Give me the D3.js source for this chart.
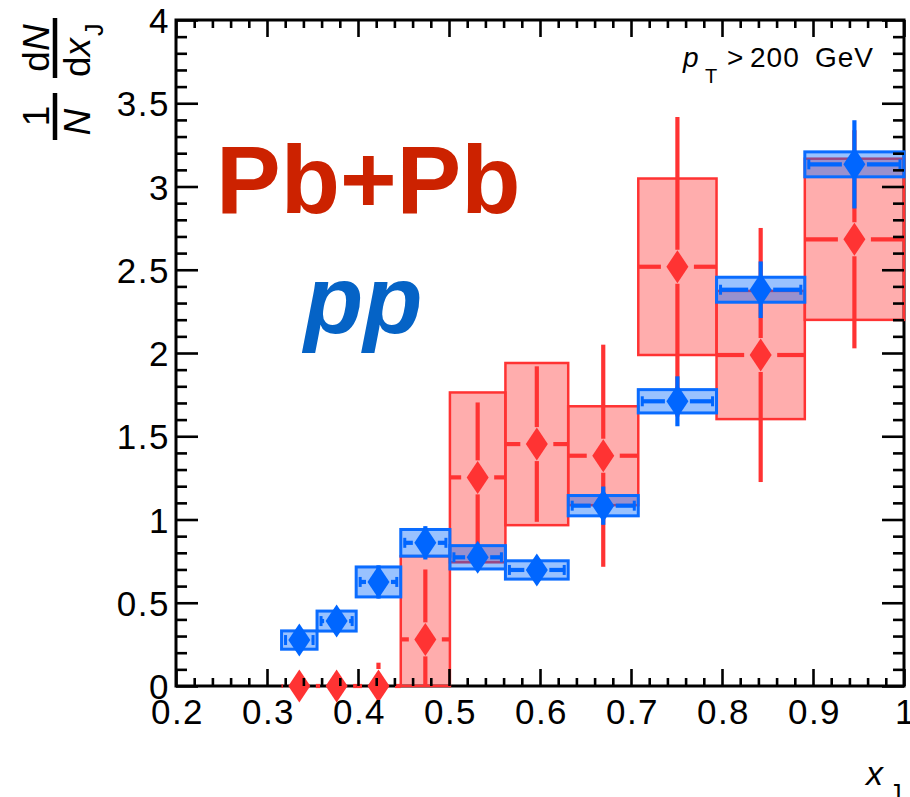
<!DOCTYPE html>
<html>
<head>
<meta charset="utf-8">
<script src="https://cdn.jsdelivr.net/npm/d3@7"></script>
<style>
  body { margin: 0; background: #fff; }
  svg { display: block; }
  text { font-family: "Liberation Sans", Arial, Helvetica, sans-serif; }
</style>
</head>
<body>
<svg id="chart" width="910" height="797"></svg>
<script>
// x_J bin edges (logarithmic binning)
const binEdges = [0.316, 0.355, 0.398, 0.447, 0.501, 0.562, 0.631, 0.708, 0.794, 0.891, 1.0];

// pp: 1/N dN/dx_J per bin, statistical and systematic uncertainties
const ppValues = [0.276, 0.39, 0.625, 0.86, 0.773, 0.697, 1.083, 1.71, 2.38, 3.133];
const ppStat   = [0.03, 0.04, 0.10, 0.10, 0.06, 0.06, 0.115, 0.15, 0.17, 0.265];
const ppSys    = [0.055, 0.06, 0.09, 0.08, 0.07, 0.055, 0.061, 0.07, 0.075, 0.075];

// Pb+Pb: 1/N dN/dx_J per bin, statistical and systematic uncertainties
const pbpbValues = [0, 0, 0, 0.28, 1.253, 1.453, 1.383, 2.518, 1.988, 2.683];
const pbpbStat   = [0, 0, 0.14, 0.42, 0.45, 0.467, 0.667, 0.9, 0.763, 0.655];
const pbpbSys    = [0, 0, 0, 0.5, 0.51, 0.487, 0.297, 0.53, 0.385, 0.484];

// axis ticks
const xTickValues = [0.2, 0.3, 0.4, 0.5, 0.6, 0.7, 0.8, 0.9, 1.0];
const xTickLabels = ["0.2", "0.3", "0.4", "0.5", "0.6", "0.7", "0.8", "0.9", "1"];
const yTickValues = [0, 0.5, 1, 1.5, 2, 2.5, 3, 3.5, 4];
const yTickLabels = ["0", "0.5", "1", "1.5", "2", "2.5", "3", "3.5", "4"];

const svg = d3.select("#chart");
const X0 = 176, X1 = 904, Y0 = 686, Y1 = 20;
const x = d3.scaleLinear().domain([0.2, 1]).range([X0, X1]);
const y = d3.scaleLinear().domain([0, 4]).range([Y0, Y1]);
const yc = y.copy().clamp(true);

const bins = binEdges.slice(0, -1).map((lo, i) => ({ lo, hi: binEdges[i + 1], c: (lo + binEdges[i + 1]) / 2 }));

// frame lines (drawn under the data)
svg.append("rect")
  .attr("x", X0).attr("y", Y1).attr("width", X1 - X0).attr("height", Y0 - Y1)
  .attr("fill", "none").attr("stroke", "#000").attr("stroke-width", 3);

function drawSeries(opts) {
  const g = svg.append("g");
  const rows = bins.map((b, i) => ({ ...b, v: opts.values[i], st: opts.stat[i], sy: opts.sys[i] }));

  // systematic boxes
  g.selectAll("rect.sys").data(rows.filter(d => d.sy > 0)).join("rect")
    .attr("class", "sys")
    .attr("x", d => x(d.lo)).attr("width", d => x(d.hi) - x(d.lo))
    .attr("y", d => yc(d.v + d.sy)).attr("height", d => yc(d.v - d.sy) - yc(d.v + d.sy))
    .attr("fill", opts.fill).attr("stroke", opts.edge).attr("stroke-width", opts.edgeWidth);

  const lines = [];
  rows.forEach(d => {
    const cx = x(d.c), cy = y(d.v);
    // horizontal bin-width bars
    lines.push([x(d.lo) + opts.inset, cy, cx - opts.gapX, cy]);
    lines.push([cx + opts.gapX, cy, x(d.hi) - opts.inset, cy]);
    // vertical statistical bars
    const top = yc(d.v + d.st), bot = yc(d.v - d.st);
    if (cy - opts.gapY > top) lines.push([cx, top, cx, cy - opts.gapY]);
    if (bot > cy + opts.gapY) lines.push([cx, cy + opts.gapY, cx, bot]);
  });
  g.selectAll("line.err").data(lines).join("line")
    .attr("class", "err")
    .attr("x1", d => d[0]).attr("y1", d => d[1]).attr("x2", d => d[2]).attr("y2", d => d[3])
    .attr("stroke", opts.color).attr("stroke-width", 4.2);

  if (opts.caps) {
    const caps = [];
    rows.forEach(d => {
      const cy = y(d.v);
      caps.push([x(d.lo) + opts.inset + 1, cy]);
      caps.push([x(d.hi) - opts.inset - 1, cy]);
    });
    g.selectAll("line.cap").data(caps).join("line")
      .attr("class", "cap")
      .attr("x1", d => d[0]).attr("x2", d => d[0])
      .attr("y1", d => d[1] - 5).attr("y2", d => d[1] + 5)
      .attr("stroke", opts.color).attr("stroke-width", 3);
  }

  // diamond markers
  g.selectAll("path.mk").data(rows).join("path")
    .attr("class", "mk")
    .attr("d", d => {
      const cx = x(d.c), cy = y(d.v);
      return `M${cx},${cy - 16.5}L${cx + 11},${cy}L${cx},${cy + 16.5}L${cx - 11},${cy}Z`;
    })
    .attr("fill", opts.color);
}

drawSeries({
  values: pbpbValues, stat: pbpbStat, sys: pbpbSys,
  color: "#ff3333", fill: "rgba(255,51,51,0.4)", edge: "#ff3333", edgeWidth: 2.5,
  gapX: 16.5, gapY: 17, inset: 0, caps: false
});
drawSeries({
  values: ppValues, stat: ppStat, sys: ppSys,
  color: "#0066ff", fill: "rgba(0,102,255,0.4)", edge: "#0a6cff", edgeWidth: 3,
  gapX: 12.5, gapY: 12, inset: 3, caps: true
});

// axes: ticks point inward, labels on bottom and left
const fontSize = 35;
const xMinor = d3.range(0.22, 1.0, 0.02).filter(v => Math.abs(v * 10 - Math.round(v * 10)) > 1e-6);
const yMinor = d3.range(0.1, 4.0, 0.1).filter(v => Math.abs(v * 2 - Math.round(v * 2)) > 1e-6);

function styleAxis(g) {
  g.select(".domain").remove();
  g.selectAll(".tick line").attr("stroke", "#000").attr("stroke-width", 2.6);
  g.selectAll(".tick text").attr("fill", "#000").attr("font-size", fontSize)
    .attr("letter-spacing", 1.5)
    .attr("font-family", "'Liberation Sans', Arial, Helvetica, sans-serif");
}

svg.append("g").attr("transform", `translate(0,${Y0})`)
  .call(d3.axisBottom(x).tickValues(xTickValues).tickSize(-17).tickPadding(13)
    .tickFormat((d, i) => xTickLabels[i]))
  .call(styleAxis)
  .call(g => g.selectAll(".tick text").attr("dx", 1));
svg.append("g").attr("transform", `translate(0,${Y0})`)
  .call(d3.axisBottom(x).tickValues(xMinor).tickSize(-8).tickFormat(""))
  .call(styleAxis);
svg.append("g").attr("transform", `translate(0,${Y1})`)
  .call(d3.axisTop(x).tickValues(xTickValues).tickSize(-17).tickFormat(""))
  .call(styleAxis);
svg.append("g").attr("transform", `translate(0,${Y1})`)
  .call(d3.axisTop(x).tickValues(xMinor).tickSize(-8).tickFormat(""))
  .call(styleAxis);

svg.append("g").attr("transform", `translate(${X0},0)`)
  .call(d3.axisLeft(y).tickValues(yTickValues).tickSize(-22).tickPadding(6)
    .tickFormat((d, i) => yTickLabels[i]))
  .call(styleAxis)
  .call(g => g.selectAll(".tick text").attr("dy", "0.36em"));
svg.append("g").attr("transform", `translate(${X0},0)`)
  .call(d3.axisLeft(y).tickValues(yMinor).tickSize(-11).tickFormat(""))
  .call(styleAxis);
svg.append("g").attr("transform", `translate(${X1},0)`)
  .call(d3.axisRight(y).tickValues(yTickValues).tickSize(-22).tickFormat(""))
  .call(styleAxis);
svg.append("g").attr("transform", `translate(${X1},0)`)
  .call(d3.axisRight(y).tickValues(yMinor).tickSize(-11).tickFormat(""))
  .call(styleAxis);

// system labels
svg.append("text").attr("x", 216).attr("y", 213)
  .attr("font-size", 97).attr("font-weight", "bold").attr("fill", "#cc2200")
  .text("Pb+Pb");
svg.append("text").attr("x", 304).attr("y", 333)
  .attr("font-size", 97).attr("font-weight", "bold").attr("font-style", "italic").attr("fill", "#0563c6")
  .text("pp");

// kinematic selection
const sel = svg.append("g").attr("font-size", 28).attr("fill", "#000").attr("letter-spacing", 1);
sel.append("text").attr("x", 683).attr("y", 67).attr("font-style", "italic").text("p");
sel.append("text").attr("x", 705).attr("y", 83).attr("font-size", 20).text("T");
sel.append("text").attr("x", 727).attr("y", 67).text(">");
sel.append("text").attr("x", 750).attr("y", 67).text("200");
sel.append("text").attr("x", 815).attr("y", 67).text("GeV");

// x-axis title
svg.append("text").attr("x", 866).attr("y", 785).attr("font-size", 34).attr("font-style", "italic").text("x");
svg.append("text").attr("x", 889).attr("y", 802).attr("font-size", 25).text("J");

// y-axis title: 1/N dN/dx_J, read bottom to top
const yt = svg.append("g").attr("transform", "translate(55,140) rotate(-90)").attr("fill", "#000");
yt.append("text").attr("x", 24).attr("y", -6).attr("font-size", 37).attr("text-anchor", "middle").text("1");
yt.append("line").attr("x1", 0).attr("x2", 47).attr("y1", 0).attr("y2", 0).attr("stroke", "#000").attr("stroke-width", 4.5);
yt.append("text").attr("x", 18).attr("y", 35).attr("font-size", 37).attr("font-style", "italic").attr("text-anchor", "middle").text("N");
const num = yt.append("text").attr("x", 92).attr("y", -6).attr("font-size", 37).attr("text-anchor", "middle");
num.append("tspan").text("d");
num.append("tspan").attr("font-style", "italic").text("N");
yt.append("line").attr("x1", 62).attr("x2", 122).attr("y1", 0).attr("y2", 0).attr("stroke", "#000").attr("stroke-width", 4.5);
const den = yt.append("text").attr("x", 63).attr("y", 35).attr("font-size", 37);
den.append("tspan").text("d");
den.append("tspan").attr("font-style", "italic").text("x");
den.append("tspan").attr("font-size", 25).attr("dx", 2).attr("dy", 13).text("J");
</script>
</body>
</html>
